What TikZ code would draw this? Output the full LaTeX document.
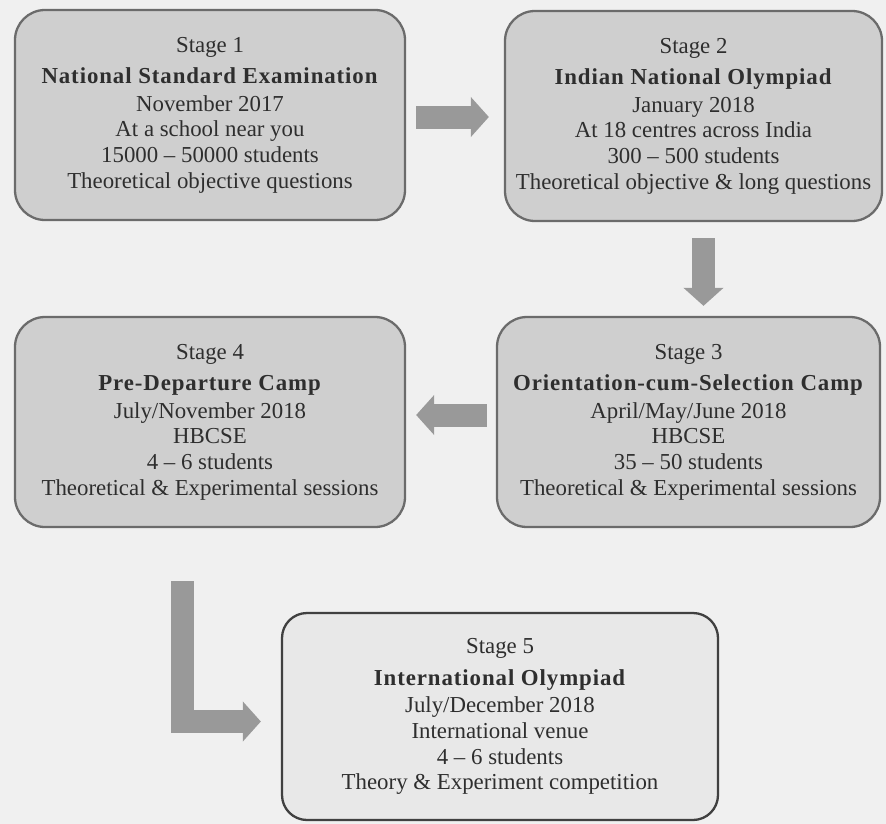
\documentclass[tikz,border=0pt]{standalone}
\usepackage{fontspec}
\setmainfont{Liberation Serif}
\usetikzlibrary{positioning,arrows.meta}
\tikzset{stagebox/.style={draw=black!58, line width=1.3pt, rounded corners=0.6cm,
			fill=black!19, minimum height=4.2cm, inner sep=0pt, align=center,
			text=black!82, font=\fontsize{13}{14.6}\selectfont},
		bigarrow/.style={draw=black!40, line width=0.46cm,
			-{Triangle[width=0.78cm,length=0.36cm]}}}
\newcommand{\stagetitle}[1]{\textbf{\addfontfeatures{LetterSpace=4}#1}}

\begin{document}
\begin{tikzpicture}

					% paper
					\fill[black!6] (0,0) rectangle (17.72,-16.48);

					\node[stagebox, minimum width=7.8cm] (stage1) at (4.2,-2.3)
						{Stage 1\\[3.4pt]
						\stagetitle{National Standard Examination}\\[1.1pt]
						November 2017\\
						At a school near you\\
						15000 -- 50000 students\\
						Theoretical objective questions};

					\node[stagebox, minimum width=7.54cm] (stage2) at (13.87,-2.32)
						{Stage 2\\[3.4pt]
						\stagetitle{Indian National Olympiad}\\[1.1pt]
						January 2018\\
						At 18 centres across India\\
						300 -- 500 students\\
						Theoretical objective \& long questions};

					\node[stagebox, minimum width=7.66cm] (stage3) at (13.77,-8.44)
						{Stage 3\\[3.4pt]
						\stagetitle{Orientation-cum-Selection Camp}\\[1.1pt]
						April/May/June 2018\\
						HBCSE\\
						35 -- 50 students\\
						Theoretical \& Experimental sessions};

					\node[stagebox, minimum width=7.8cm] (stage4) at (4.2,-8.44)
						{Stage 4\\[3.4pt]
						\stagetitle{Pre-Departure Camp}\\[1.1pt]
						July/November 2018\\
						HBCSE\\
						4 -- 6 students\\
						Theoretical \& Experimental sessions};

					\node[stagebox, minimum width=8.72cm, minimum height=4.14cm,
						fill=black!9, draw=black!75, rounded corners=0.5cm] (stage5) at (10.0,-14.33)
						{Stage 5\\[3.4pt]
						\stagetitle{International Olympiad}\\[1.1pt]
						July/December 2018\\
						International venue\\
						4 -- 6 students\\
						Theory \& Experiment competition};

					% arrows
					\draw[bigarrow, shorten <=0.2cm, shorten >=0.3cm]
						([yshift=-0.04cm]stage1.east) -- ([yshift=-0.04cm]stage1.east -| stage2.west);
					\draw[bigarrow, shorten <=0.32cm, shorten >=0.2cm]
						([xshift=0.2cm]stage2.south) -- ([xshift=0.2cm]stage2.south |- stage3.north);
					\draw[bigarrow, shorten <=0.18cm, shorten >=0.2cm]
						([yshift=0.14cm]stage3.west) -- ([yshift=0.14cm]stage3.west -| stage4.east);
					\draw[bigarrow, shorten >=0.4cm]
						([xshift=-0.56cm,yshift=-1.06cm]stage4.south) |- ([yshift=-0.1cm]stage5.west);

\end{tikzpicture}
\end{document}
